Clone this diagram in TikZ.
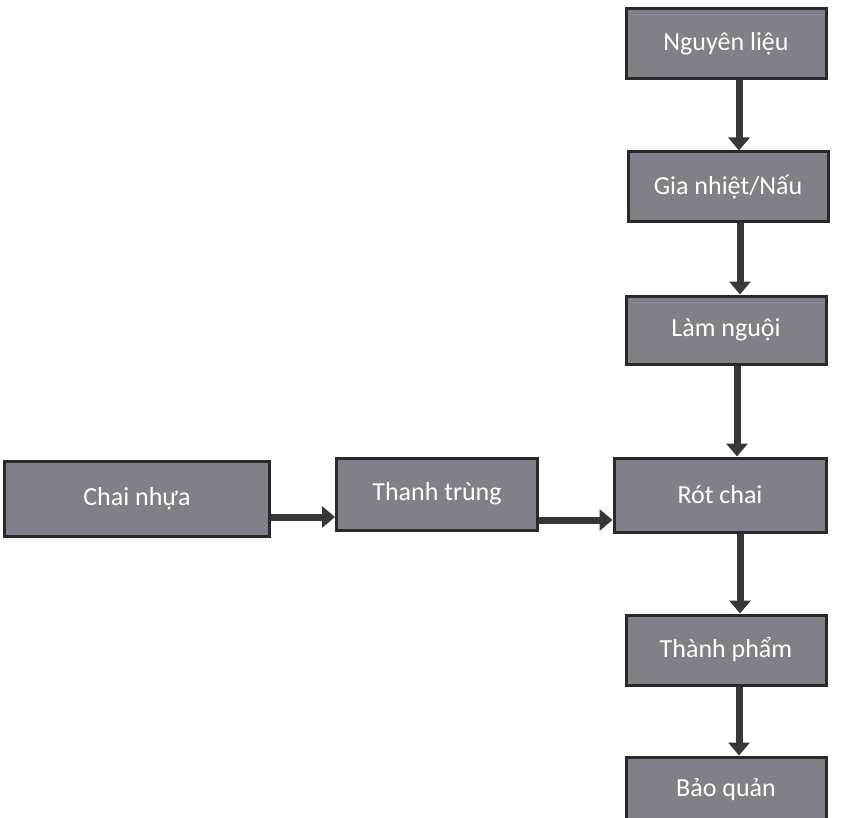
\documentclass[tikz,border=0pt]{standalone}
\usepackage{fontspec}
\setsansfont{Carlito}
\usetikzlibrary{arrows.meta}

\definecolor{boxfill}{RGB}{128,128,136}
\definecolor{boxline}{RGB}{42,42,46}
\definecolor{arrowcol}{RGB}{55,55,58}

\tikzset{
  stage/.style={draw=boxline, line width=3pt, fill=boxfill, text=white,
    font=\sffamily\fontsize{26}{30}\selectfont, inner sep=0pt,
    minimum width=200pt, minimum height=70pt},
  flow/.style={draw=arrowcol, line width=7pt,
    -{Triangle[width=21pt,length=13pt]}}
}

\begin{document}
\begin{tikzpicture}[x=1pt, y=-1pt]
  \useasboundingbox (0,0) rectangle (853,818);

  % main column
  \node [stage] (nguyen) at (726, 44) {Nguyên liệu};
  \node [stage] (gianhiet) at (728, 187) {Gia nhiệt/Nấu};
  \node [stage, minimum height=68pt] (lamnguoi) at (726, 330) {Làm nguội};
  \node [stage, minimum width=212pt, minimum height=74pt] (rotchai) at (720, 495) {Rót chai};
  \node [stage] (thanhpham) at (726, 650) {Thành phẩm};
  \node [stage, minimum height=66pt] (baoquan) at (726, 790) {Bảo quản};

  % side branch
  \node [stage, minimum width=265pt, minimum height=75pt] (chainhua) at (137, 499) {Chai nhựa};
  \node [stage, minimum width=201pt, minimum height=72pt] (thanhtrung) at (437, 494) {Thanh trùng};

  \draw [flow] (nguyen.south -| 739,0) -- (gianhiet.north -| 739,0);
  \draw [flow] (gianhiet.south -| 740,0) -- (lamnguoi.north -| 740,0);
  \draw [flow] (lamnguoi.south -| 737,0) -- (rotchai.north -| 737,0);
  \draw [flow] (rotchai.south -| 740,0) -- (thanhpham.north -| 740,0);
  \draw [flow] (thanhpham.south -| 739,0) -- (baoquan.north -| 739,0);

  \draw [flow] (chainhua.east |- 0,517) -- (thanhtrung.west |- 0,517);
  \draw [flow] (thanhtrung.east |- 0,520) -- (rotchai.west |- 0,520);

\end{tikzpicture}
\end{document}
